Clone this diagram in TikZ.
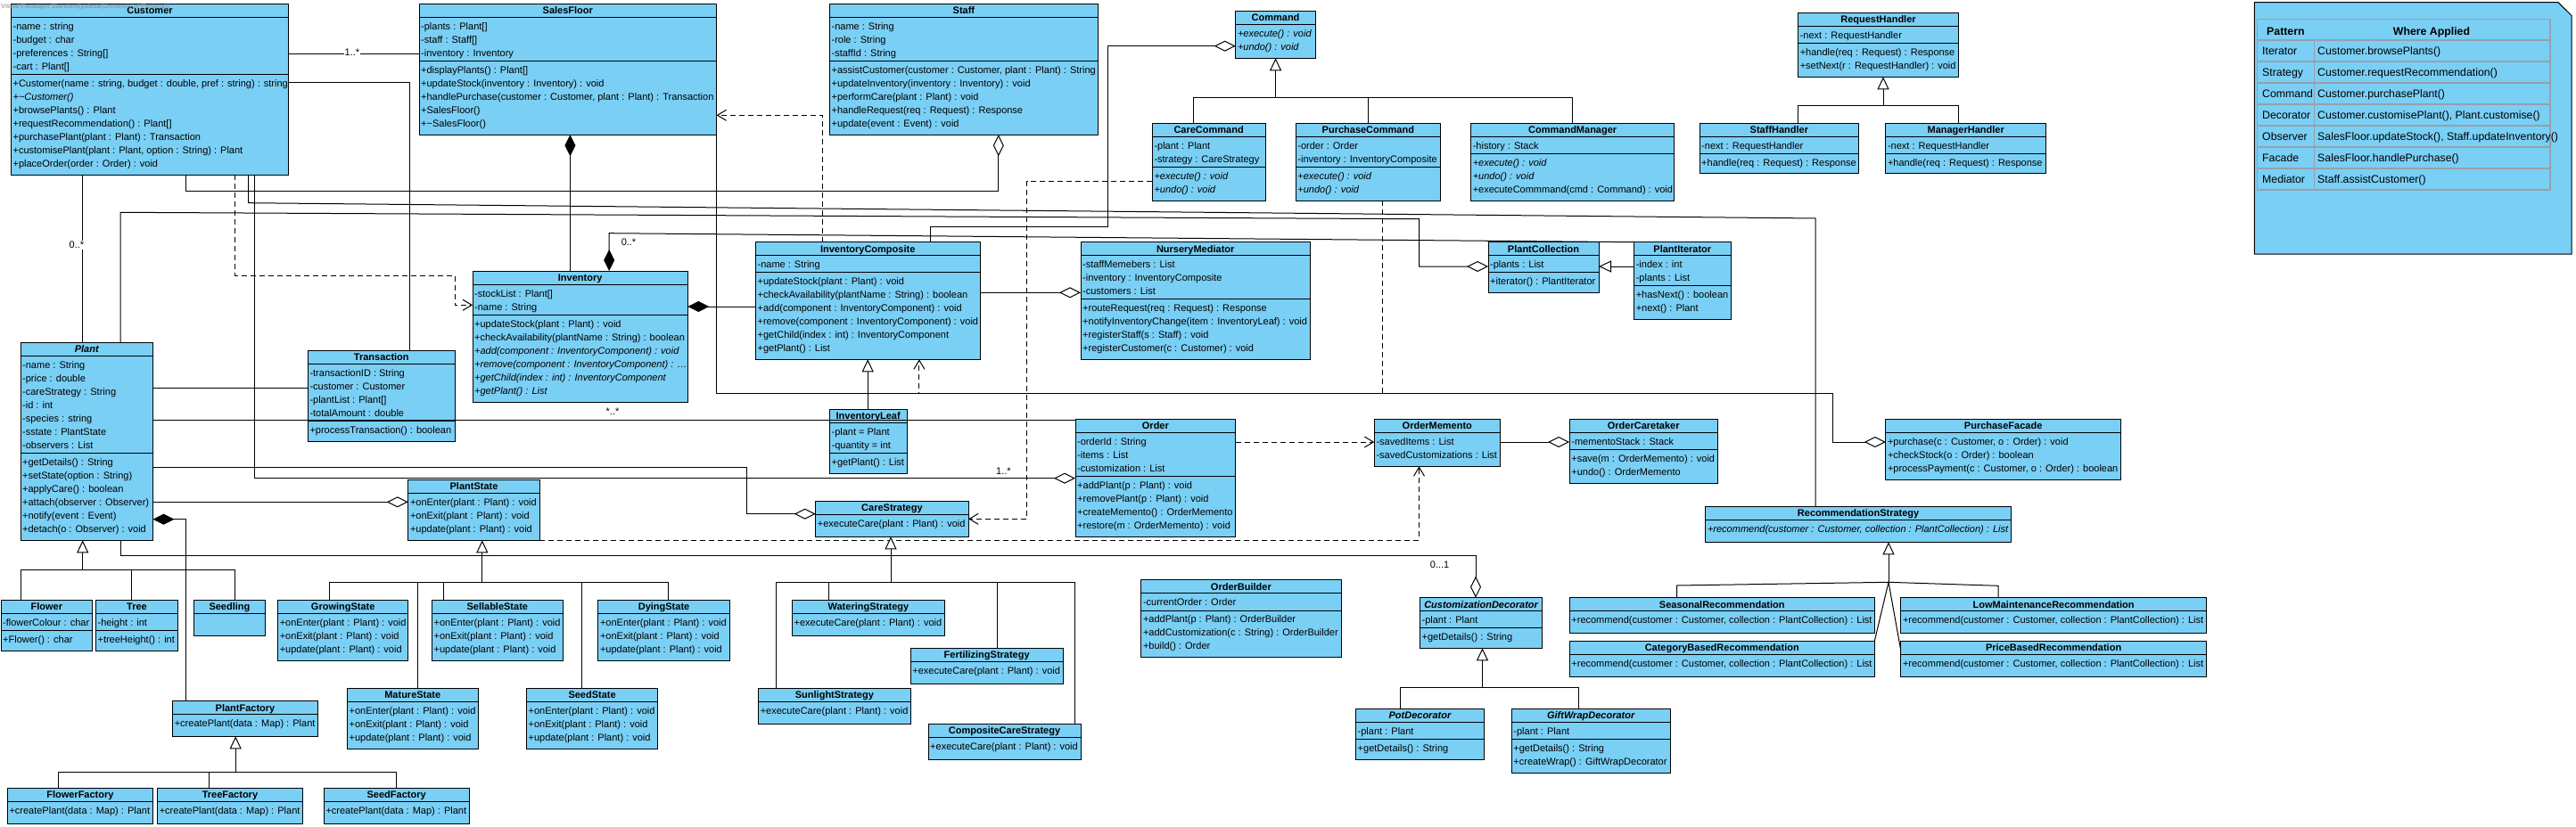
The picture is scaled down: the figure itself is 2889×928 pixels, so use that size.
\documentclass[tikz,border=0pt]{standalone}
\usepackage{fontspec}
\setmainfont{Liberation Sans}
\usetikzlibrary{arrows.meta}
\definecolor{umlfill}{RGB}{122,207,245}
\definecolor{tblline}{RGB}{150,160,170}
\tikzset{
  clsbox/.style={draw=black, fill=umlfill, line width=1pt, inner sep=0pt, outer sep=0pt},
  hdr/.style={anchor=base, inner sep=0pt, font=\fontsize{11}{13}\selectfont\bfseries},
  txt/.style={anchor=base west, inner sep=0pt, xshift=2pt, font=\fontsize{11}{13}\selectfont},
  sepline/.style={black, line width=1pt},
  conn/.style={draw=black, line width=1pt},
  assoc/.style={conn},
  agg/.style={conn, {Diamond[length=24pt,width=12pt,fill=white]}-},
  compo/.style={conn, {Diamond[length=24pt,width=12pt,fill=black]}-},
  gen/.style={conn, {Triangle[length=14pt,width=13pt,fill=white]}-},
  dep/.style={conn, dash pattern=on 6pt off 4pt, -{Straight Barb[length=10pt,width=12pt]}},
  mult/.style={inner sep=1pt, font=\fontsize{11}{13}\selectfont},
  tbl/.style={draw=tblline, line width=1.5pt},
  tcell/.style={anchor=base west, inner sep=0pt, font=\fontsize{12.3}{15}\selectfont},
  thead/.style={anchor=base, inner sep=0pt, font=\fontsize{12.3}{15}\selectfont\bfseries},
}
\newcommand\umlcls[6]{%
  \node[clsbox, minimum width={#4-#2}, minimum height={#5-#3}] (#1) at ({(#2+#4)/2},{(#3+#5)/2}) {};
  \pgfmathsetmacro\umlhy{#3+11.5}%
  \node[hdr] (#1-h) at ({(#2+#4)/2},\umlhy) {#6};
  \pgfmathsetmacro\umlsy{#3+15}%
  \draw[sepline] (#2,\umlsy) -- (#4,\umlsy);
}
\newcommand\umlsep[2]{\draw[sepline] (#1.west |- 0,#2) -- (#1.east |- 0,#2);}
\newcommand\umllines[4]{%
  \foreach \t [count=\i from 0] in {#4} {%
    \pgfmathsetmacro\umly{#3+4+15*\i}%
    \node[txt] (#1-#2\i) at (#1.west |- 0,\umly) {\t};
  }%
}
\begin{document}
\begin{tikzpicture}[x=1pt,y=-1pt]
\fill[white] (0,0) rectangle (2889,928);
\useasboundingbox (0,0) rectangle (2889,928);

% ---------------- classes ----------------
\umlcls{customer}{12.4}{4.3}{323.6}{196.3}{Customer}
\umlsep{customer}{83.3}
\umllines{customer}{a}{29.3}{-name : string, -budget : char, {-preferences : String[]}, {-cart : Plant[]}}
\umllines{customer}{m}{93.3}{{+Customer(name : string, budget : double, pref : string) : string}, {\itshape +\textasciitilde Customer()}, +browsePlants() : Plant, {+requestRecommendation() : Plant[]}, +purchasePlant(plant : Plant) : Transaction, {+customisePlant(plant : Plant, option : String) : Plant}, +placeOrder(order : Order) : void}

\umlcls{salesfloor}{470}{4.3}{803.6}{151.3}{SalesFloor}
\umlsep{salesfloor}{68.7}
\umllines{salesfloor}{a}{29.3}{{-plants : Plant[]}, {-staff : Staff[]}, -inventory : Inventory}
\umllines{salesfloor}{m}{78.3}{{+displayPlants() : Plant[]}, +updateStock(inventory : Inventory) : void, {+handlePurchase(customer : Customer, plant : Plant) : Transaction}, +SalesFloor(), +\textasciitilde SalesFloor()}

\umlcls{staff}{930.4}{4.3}{1231.4}{151.3}{Staff}
\umlsep{staff}{68.7}
\umllines{staff}{a}{29.3}{-name : String, -role : String, -staffId : String}
\umllines{staff}{m}{78.3}{{+assistCustomer(customer : Customer, plant : Plant) : String}, +updateInventory(inventory : Inventory) : void, +performCare(plant : Plant) : void, +handleRequest(req : Request) : Response, +update(event : Event) : void}

\umlcls{command}{1385.8}{12.3}{1475.3}{65.3}{Command}
\umllines{command}{m}{37.3}{{\itshape +execute() : void}, {\itshape +undo() : void}}

\umlcls{carecommand}{1292.3}{138.3}{1419}{225.3}{CareCommand}
\umlsep{carecommand}{187.3}
\umllines{carecommand}{a}{163.3}{-plant : Plant, -strategy : CareStrategy}
\umllines{carecommand}{m}{197.3}{{\itshape +execute() : void}, {\itshape +undo() : void}}

\umlcls{purchasecommand}{1453.2}{138.3}{1615.5}{225.3}{PurchaseCommand}
\umlsep{purchasecommand}{187.3}
\umllines{purchasecommand}{a}{163.3}{-order : Order, -inventory : InventoryComposite}
\umllines{purchasecommand}{m}{197.3}{{\itshape +execute() : void}, {\itshape +undo() : void}}

\umlcls{commandmanager}{1649.6}{138.3}{1877.8}{225.3}{CommandManager}
\umlsep{commandmanager}{172.3}
\umllines{commandmanager}{a}{163.3}{-history : Stack}
\umllines{commandmanager}{m}{182.3}{{\itshape +execute() : void}, {\itshape +undo() : void}, +executeCommmand(cmd : Command) : void}

\umlcls{requesthandler}{2016.6}{14.3}{2196.4}{86.3}{RequestHandler}
\umlsep{requesthandler}{48.3}
\umllines{requesthandler}{a}{39.3}{-next : RequestHandler}
\umllines{requesthandler}{m}{58.3}{+handle(req : Request) : Response, +setNext(r : RequestHandler) : void}

\umlcls{staffhandler}{1906}{138.3}{2084.8}{195}{StaffHandler}
\umlsep{staffhandler}{172.3}
\umllines{staffhandler}{a}{163.3}{-next : RequestHandler}
\umllines{staffhandler}{m}{182.3}{+handle(req : Request) : Response}

\umlcls{managerhandler}{2114.8}{138.3}{2294.6}{195}{ManagerHandler}
\umlsep{managerhandler}{172.3}
\umllines{managerhandler}{a}{163.3}{-next : RequestHandler}
\umllines{managerhandler}{m}{182.3}{+handle(req : Request) : Response}

\umlcls{inventory}{530}{304}{771.3}{451.3}{Inventory}
\umlsep{inventory}{353.3}
\umllines{inventory}{a}{329.3}{{-stockList : Plant[]}, -name : String}
\umllines{inventory}{m}{363.3}{+updateStock(plant : Plant) : void, +checkAvailability(plantName : String) : boolean, {\itshape +add(component : InventoryComponent) : void}, {\itshape +remove(component : InventoryComponent) : \ldots}, {\itshape +getChild(index : int) : InventoryComponent}, {\itshape +getPlant() : List}}

\umlcls{inventorycomposite}{847.4}{271.7}{1099}{403.3}{InventoryComposite}
\umlsep{inventorycomposite}{305}
\umllines{inventorycomposite}{a}{296.7}{-name : String}
\umllines{inventorycomposite}{m}{315}{+updateStock(plant : Plant) : void, +checkAvailability(plantName : String) : boolean, +add(component : InventoryComponent) : void, +remove(component : InventoryComponent) : void, +getChild(index : int) : InventoryComponent, +getPlant() : List}

\umlcls{nurserymediator}{1212}{271.7}{1469.4}{403.3}{NurseryMediator}
\umlsep{nurserymediator}{335}
\umllines{nurserymediator}{a}{296.7}{-staffMemebers : List, -inventory : InventoryComposite, -customers : List}
\umllines{nurserymediator}{m}{345}{+routeRequest(req : Request) : Response, +notifyInventoryChange(item : InventoryLeaf) : void, +registerStaff(s : Staff) : void, +registerCustomer(c : Customer) : void}

\umlcls{plantcollection}{1669}{271.7}{1793}{328.3}{PlantCollection}
\umlsep{plantcollection}{305}
\umllines{plantcollection}{a}{296.7}{-plants : List}
\umllines{plantcollection}{m}{315}{+iterator() : PlantIterator}

\umlcls{plantiterator}{1832.6}{271.7}{1941}{358.3}{PlantIterator}
\umlsep{plantiterator}{320.7}
\umllines{plantiterator}{a}{296.7}{-index : int, -plants : List}
\umllines{plantiterator}{m}{330}{+hasNext() : boolean, +next() : Plant}

\umlcls{plant}{23}{384.3}{171.5}{606.3}{\itshape Plant}
\umlsep{plant}{508.3}
\umllines{plant}{a}{409.3}{-name : String, -price : double, -careStrategy : String, -id : int, -species : string, -sstate : PlantState, -observers : List}
\umllines{plant}{m}{518.3}{+getDetails() : String, +setState(option : String), +applyCare() : boolean, +attach(observer : Observer), +notify(event : Event), +detach(o : Observer) : void}

\umlcls{transaction}{345.3}{393.3}{510.3}{495.3}{Transaction}
\umlsep{transaction}{472.7}
\umllines{transaction}{a}{418.3}{-transactionID : String, -customer : Customer, {-plantList : Plant[]}, -totalAmount : double}
\umllines{transaction}{m}{482.3}{+processTransaction() : boolean}

\umlcls{plantstate}{457.8}{538.3}{605.3}{606.3}{PlantState}
\umllines{plantstate}{m}{563.3}{+onEnter(plant : Plant) : void, +onExit(plant : Plant) : void, +update(plant : Plant) : void}

\umlcls{inventoryleaf}{930.4}{459.3}{1017}{531}{InventoryLeaf}
\umlsep{inventoryleaf}{508.3}
\umllines{inventoryleaf}{a}{484.3}{-plant = Plant, -quantity = int}
\umllines{inventoryleaf}{m}{518.3}{+getPlant() : List}

\umlcls{order}{1206}{470.3}{1385.8}{602.3}{Order}
\umlsep{order}{534.3}
\umllines{order}{a}{495.3}{-orderId : String, -items : List, -customization : List}
\umllines{order}{m}{544.3}{+addPlant(p : Plant) : void, +removePlant(p : Plant) : void, +createMemento() : OrderMemento, +restore(m : OrderMemento) : void}

\umlcls{carestrategy}{914.7}{562.3}{1086.2}{602.3}{CareStrategy}
\umllines{carestrategy}{m}{587.3}{+executeCare(plant : Plant) : void}

\umlcls{ordermemento}{1541.3}{470.3}{1682.3}{523.3}{OrderMemento}
\umllines{ordermemento}{a}{495.3}{-savedItems : List, -savedCustomizations : List}

\umlcls{ordercaretaker}{1760.2}{470.3}{1926.2}{542.3}{OrderCaretaker}
\umlsep{ordercaretaker}{504.3}
\umllines{ordercaretaker}{a}{495.3}{-mementoStack : Stack}
\umllines{ordercaretaker}{m}{514.3}{+save(m : OrderMemento) : void, +undo() : OrderMemento}

\umlcls{purchasefacade}{2114.8}{470.3}{2378.5}{538.3}{PurchaseFacade}
\umllines{purchasefacade}{m}{495.3}{{+purchase(c : Customer, o : Order) : void}, +checkStock(o : Order) : boolean, {+processPayment(c : Customer, o : Order) : boolean}}

\umlcls{recommendationstrategy}{1912.8}{568.3}{2255.4}{608.3}{RecommendationStrategy}
\umllines{recommendationstrategy}{m}{593.3}{{\itshape +recommend(customer : Customer, collection : PlantCollection) : List}}

\umlcls{flower}{1}{673.3}{103.7}{730}{Flower}
\umlsep{flower}{707.7}
\umllines{flower}{a}{698.3}{-flowerColour : char}
\umllines{flower}{m}{717.3}{+Flower() : char}

\umlcls{tree}{107.4}{673.3}{199.6}{730}{Tree}
\umlsep{tree}{707.7}
\umllines{tree}{a}{698.3}{-height : int}
\umllines{tree}{m}{717.3}{+treeHeight() : int}

\umlcls{seedling}{217.6}{673.3}{297.3}{713.3}{Seedling}

\umlcls{growingstate}{311.6}{673.3}{457.8}{741}{GrowingState}
\umllines{growingstate}{m}{698.3}{+onEnter(plant : Plant) : void, +onExit(plant : Plant) : void, +update(plant : Plant) : void}
\umlcls{sellablestate}{484.5}{673.3}{631.1}{741}{SellableState}
\umllines{sellablestate}{m}{698.3}{+onEnter(plant : Plant) : void, +onExit(plant : Plant) : void, +update(plant : Plant) : void}
\umlcls{dyingstate}{670.8}{673.3}{818.3}{741}{DyingState}
\umllines{dyingstate}{m}{698.3}{+onEnter(plant : Plant) : void, +onExit(plant : Plant) : void, +update(plant : Plant) : void}
\umlcls{maturestate}{389.5}{772.3}{536.1}{840}{MatureState}
\umllines{maturestate}{m}{797.3}{+onEnter(plant : Plant) : void, +onExit(plant : Plant) : void, +update(plant : Plant) : void}
\umlcls{seedstate}{590.5}{772.3}{737.7}{840}{SeedState}
\umllines{seedstate}{m}{797.3}{+onEnter(plant : Plant) : void, +onExit(plant : Plant) : void, +update(plant : Plant) : void}

\umlcls{plantfactory}{193.6}{786.7}{356.4}{826.3}{PlantFactory}
\umllines{plantfactory}{m}{811.7}{+createPlant(data : Map) : Plant}
\umlcls{flowerfactory}{8.3}{884.3}{171.5}{924}{FlowerFactory}
\umllines{flowerfactory}{m}{909.3}{+createPlant(data : Map) : Plant}
\umlcls{treefactory}{176.6}{884.3}{339.3}{924}{TreeFactory}
\umllines{treefactory}{m}{909.3}{+createPlant(data : Map) : Plant}
\umlcls{seedfactory}{363.3}{884.3}{526}{924}{SeedFactory}
\umllines{seedfactory}{m}{909.3}{+createPlant(data : Map) : Plant}

\umlcls{wateringstrategy}{888.4}{673.3}{1059.5}{713.3}{WateringStrategy}
\umllines{wateringstrategy}{m}{698.3}{+executeCare(plant : Plant) : void}
\umlcls{fertilizingstrategy}{1021.2}{727.3}{1192.2}{767.3}{FertilizingStrategy}
\umllines{fertilizingstrategy}{m}{752.3}{+executeCare(plant : Plant) : void}
\umlcls{sunlightstrategy}{850.6}{772.3}{1021.2}{812.3}{SunlightStrategy}
\umllines{sunlightstrategy}{m}{797.3}{+executeCare(plant : Plant) : void}
\umlcls{compositecarestrategy}{1041}{812.3}{1212}{852.3}{CompositeCareStrategy}
\umllines{compositecarestrategy}{m}{837.3}{+executeCare(plant : Plant) : void}

\umlcls{orderbuilder}{1279.8}{650.7}{1504}{737.3}{OrderBuilder}
\umlsep{orderbuilder}{685}
\umllines{orderbuilder}{a}{675.7}{-currentOrder : Order}
\umllines{orderbuilder}{m}{694.7}{+addPlant(p : Plant) : OrderBuilder, +addCustomization(c : String) : OrderBuilder, +build() : Order}

\umlcls{customizationdecorator}{1592.4}{670.7}{1729.8}{727.3}{\itshape CustomizationDecorator}
\umlsep{customizationdecorator}{704.7}
\umllines{customizationdecorator}{a}{695.7}{-plant : Plant}
\umllines{customizationdecorator}{m}{714.7}{+getDetails() : String}

\umlcls{potdecorator}{1520.5}{795.3}{1664.4}{852.3}{\itshape PotDecorator}
\umlsep{potdecorator}{829.7}
\umllines{potdecorator}{a}{820.3}{-plant : Plant}
\umllines{potdecorator}{m}{839.3}{+getDetails() : String}

\umlcls{giftwrapdecorator}{1695.2}{795.3}{1873.2}{867.3}{\itshape GiftWrapDecorator}
\umlsep{giftwrapdecorator}{829.7}
\umllines{giftwrapdecorator}{a}{820.3}{-plant : Plant}
\umllines{giftwrapdecorator}{m}{839.3}{+getDetails() : String, +createWrap() : GiftWrapDecorator}

\umlcls{seasonalrecommendation}{1760.2}{670.7}{2102.3}{710}{SeasonalRecommendation}
\umllines{seasonalrecommendation}{m}{695.7}{{+recommend(customer : Customer, collection : PlantCollection) : List}}
\umlcls{categorybasedrecommendation}{1760.2}{719.3}{2102.3}{759.3}{CategoryBasedRecommendation}
\umllines{categorybasedrecommendation}{m}{744.3}{{+recommend(customer : Customer, collection : PlantCollection) : List}}
\umlcls{lowmaintenancerecommendation}{2131.8}{670.7}{2474.4}{710}{LowMaintenanceRecommendation}
\umllines{lowmaintenancerecommendation}{m}{695.7}{{+recommend(customer : Customer, collection : PlantCollection) : List}}
\umlcls{pricebasedrecommendation}{2131.8}{719.3}{2474.4}{759.3}{PriceBasedRecommendation}
\umllines{pricebasedrecommendation}{m}{744.3}{{+recommend(customer : Customer, collection : PlantCollection) : List}}

% ---------------- note with table ----------------
\draw[fill=umlfill, line width=1pt] (2528.3,2.7) -- (2869,2.7) -- (2884.2,17.7) -- (2884.2,285) -- (2528.3,285) -- cycle;
\draw[tbl] (2531.6,21.7) rectangle (2859.8,213);
\foreach \y in {45,69,93,117,141,165,189} {\draw[tbl] (2531.6,\y) -- (2859.8,\y);}
\draw[tbl] (2595.7,45) -- (2595.7,213);
\node[thead] (th1) at (2563.4,39.2) {Pattern};
\node[thead] (th2) at (2727,39.2) {Where Applied};
\node[tcell] (p1) at (2537,61.5) {Iterator};
\node[tcell] (w1) at (2599,61.5) {Customer.browsePlants()};
\node[tcell] (p2) at (2537,85.5) {Strategy};
\node[tcell] (w2) at (2599,85.5) {Customer.requestRecommendation()};
\node[tcell] (p3) at (2537,109.5) {Command};
\node[tcell] (w3) at (2599,109.5) {Customer.purchasePlant()};
\node[tcell] (p4) at (2537,133.5) {Decorator};
\node[tcell] (w4) at (2599,133.5) {Customer.customisePlant(), Plant.customise()};
\node[tcell] (p5) at (2537,157.5) {Observer};
\node[tcell] (w5) at (2599,157.5) {SalesFloor.updateStock(), Staff.updateInventory()};
\node[tcell] (p6) at (2537,181.5) {Facade};
\node[tcell] (w6) at (2599,181.5) {SalesFloor.handlePurchase()};
\node[tcell] (p7) at (2537,205.5) {Mediator};
\node[tcell] (w7) at (2599,205.5) {Staff.assistCustomer()};

% ---------------- connectors ----------------
\draw[assoc] (customer.east |- 0,60.7) -- (salesfloor.west |- 0,60.7);
\node[mult, fill=white] (m1) at (395,59) {1..*};
\draw[assoc] (customer.east |- 0,92.7) -| (transaction.north -| 459.6,0);
\draw[assoc] (customer.south -| 92.7,0) -- (plant.north -| 92.7,0);
\node[mult, fill=white] (m3) at (86,275) {0..*};
\draw[agg] (staff.south -| 1119.8,0) -- (1119.8,214.3) -| (customer.south -| 208.8,0);
\draw[dep] (customer.south -| 263.3,0) |- (510,309) |- (inventory.west |- 0,342.3);
\draw[assoc] (customer.south -| 278.5,0) -- (278.5,227.7) -- (2036,245) -- (recommendationstrategy.north -| 2036,0);
\draw[agg] (order.west |- 0,536.7) -| (customer.south -| 285.8,0);
\node[mult] (m7) at (1125.4,528.3) {1..*};
\draw[compo] (salesfloor.south -| 639.4,0) -- (inventory.north -| 639.4,0);
\draw[compo] (inventory.north -| 683.2,0) -- (683.2,261.7) -- (plantiterator.north west);
\node[mult] (m9) at (705,271.7) {0..*};
\draw[dep] (inventorycomposite.north -| 922.5,0) |- (salesfloor.east |- 0,129.3);
\draw[agg] (command.west |- 0,51.7) -| (1242,254.3) -| (inventorycomposite.north -| 1043.3,0);
\draw[gen] (command.south -| 1430.6,0) -- (1430.6,109.3);
\draw[assoc] (carecommand.north -| 1338.8,0) |- (1763.5,109.3) -- (commandmanager.north -| 1763.5,0);
\draw[assoc] (purchasecommand.north -| 1534.4,0) -- (1534.4,109.3);
\draw[dep] (carecommand.west |- 0,203.3) -| (1151.7,582.3) -- (carestrategy.east |- 0,582.3);
\draw[dep] (purchasecommand.south -| 1550.5,0) |- (1030.9,441) -- (inventorycomposite.south -| 1030.9,0);
\draw[gen] (requesthandler.south -| 2112,0) -- (2112,119);
\draw[assoc] (staffhandler.north -| 2016.6,0) |- (2196.4,119) -- (managerhandler.north -| 2196.4,0);
\draw[compo] (inventory.east |- 0,344) -- (inventorycomposite.west |- 0,344);
\draw[agg] (nurserymediator.west |- 0,328.3) -- (inventorycomposite.east |- 0,328.3);
\draw[agg] (plantcollection.west |- 0,299) -- (1591.5,299) -- (1591.5,245.7) -- (135,238.3) -- (plant.north -| 135,0);
\draw[gen] (plantcollection.east |- 0,299) -- (plantiterator.west |- 0,299);
\draw[agg] (purchasefacade.west |- 0,496) -| (2055,441) -| (salesfloor.south -| 803.6,0);
\draw[assoc] (plant.east |- 0,435.3) -- (transaction.west |- 0,435.3);
\draw[assoc] (plant.east |- 0,471) -- (order.west |- 0,471);
\node[mult] (m23) at (687,461.7) {*..*};
\draw[agg] (carestrategy.west |- 0,576.7) -| (837.3,524.3) -- (plant.east |- 0,524.3);
\draw[agg] (plantstate.west |- 0,563.3) -- (plant.east |- 0,563.3);
\draw[compo] (plant.east |- 0,582.7) -| (plantfactory.north -| 208.4,0);
\draw[agg] (customizationdecorator.north -| 1655,0) |- (135,623.3) -- (plant.south -| 135,0);
\node[mult] (m27) at (1614.6,633.3) {0...1};
\draw[dep] (plantstate.east |- 0,606) -| (ordermemento.south -| 1591.5,0);
\draw[dep] (order.east |- 0,496) -- (ordermemento.west |- 0,496);
\draw[agg] (ordercaretaker.west |- 0,496) -- (ordermemento.east |- 0,496);
\draw[gen] (inventorycomposite.south -| 973.2,0) -- (inventoryleaf.north -| 973.2,0);
% Plant hierarchy
\draw[gen] (plant.south -| 92.7,0) -- (92.7,639.3);
\draw[assoc] (flower.north -| 23,0) -- (23,639.3) -- (263.2,639.3) -- (seedling.north -| 263.2,0);
\draw[assoc] (tree.north -| 147.5,0) -- (147.5,639.3);
% PlantState hierarchy
\draw[gen] (plantstate.south -| 540.8,0) -- (540.8,653.3);
\draw[assoc] (growingstate.north -| 369.7,0) -- (369.7,653.3) -- (749.7,653.3) -- (dyingstate.north -| 749.7,0);
\draw[assoc] (maturestate.north -| 468.4,0) -- (468.4,653.3);
\draw[assoc] (sellablestate.north -| 497.4,0) -- (497.4,653.3);
\draw[assoc] (seedstate.north -| 652.3,0) -- (652.3,653.3);
% PlantFactory hierarchy
\draw[gen] (plantfactory.south -| 264.2,0) -- (264.2,866.7);
\draw[assoc] (flowerfactory.north -| 65.5,0) -- (65.5,866.7) -- (444,866.7) -- (seedfactory.north -| 444,0);
\draw[assoc] (treefactory.north -| 234.2,0) -- (234.2,866.7);
% CareStrategy hierarchy
\draw[gen] (carestrategy.south -| 999,0) -- (999,653.3);
\draw[assoc] (sunlightstrategy.north -| 870.4,0) -- (870.4,653.3) -- (1205,653.3) -- (compositecarestrategy.north -| 1205,0);
\draw[assoc] (wateringstrategy.north -| 929,0) -- (929,653.3);
\draw[assoc] (fertilizingstrategy.north -| 1118.5,0) -- (1118.5,653.3);
% Decorator hierarchy
\draw[gen] (customizationdecorator.south -| 1662.5,0) -- (1662.5,771.7);
\draw[assoc] (potdecorator.north -| 1570.3,0) -- (1570.3,771.7) -- (1770.4,771.7) -- (giftwrapdecorator.north -| 1770.4,0);
% Recommendation hierarchy
\draw[gen] (recommendationstrategy.south -| 2118,0) -- (2118,653.3);
\draw[assoc] (seasonalrecommendation.north -| 1880.6,0) -- (1880.6,657) -- (2118,653.3) -- (2241,657.3) -- (lowmaintenancerecommendation.north -| 2241,0);
\draw[assoc] (categorybasedrecommendation.north east) -- (2118,653.3) -- (pricebasedrecommendation.west |- 0,730);

% watermark
\node[anchor=base west, inner sep=0pt, font=\fontsize{7.5}{9}\selectfont, text=black!45] (wm) at (1,10) {Visual Paradigm Standard(palesa(University of Pretoria))};
\end{tikzpicture}
\end{document}
